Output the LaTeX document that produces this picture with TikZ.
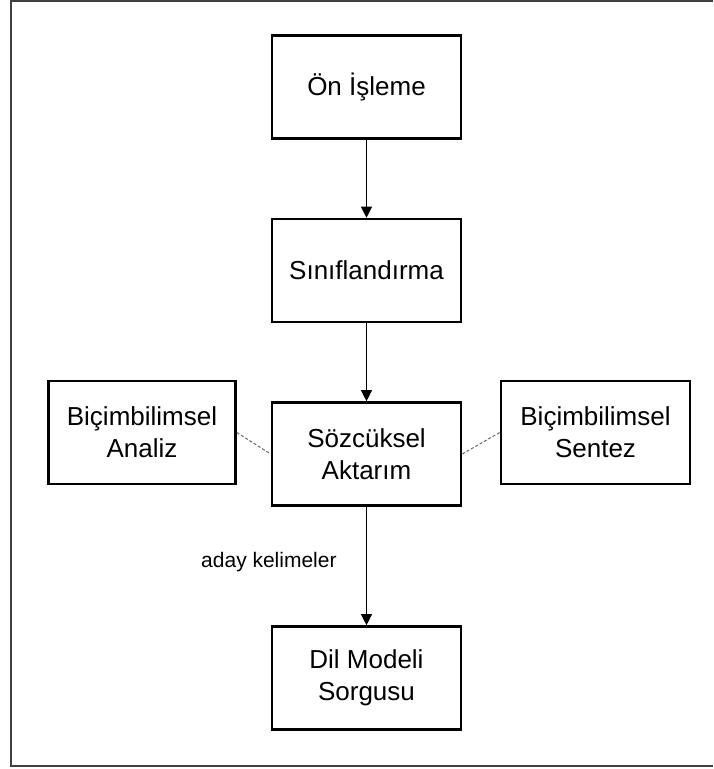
\documentclass[tikz,border=0pt]{standalone}
\usepackage{fontspec}
\setmainfont{Liberation Sans}
\usepackage{tikz}
\usetikzlibrary{arrows.meta, positioning}

\begin{document}
\begin{tikzpicture}[
    x=1pt, y=-1pt,
    stage/.style={rectangle, draw, line width=2.6pt, minimum width=189pt, minimum height=103pt, align=center, font=\fontsize{26}{32}\selectfont},
    flow/.style={-{Triangle[length=11pt, width=11pt]}, line width=1.1pt},
    link/.style={gray!80!black, line width=1pt, dash pattern=on 3pt off 2pt},
    note/.style={font=\fontsize{21}{24}\selectfont}
]

\useasboundingbox (0,0) rectangle (713,769);

% Frame
\draw[line width=2pt, black!75] (713,1) -- (11,1) -- (11,766) -- (713,766);

% Main chain
\node[stage] (pre) at (366.5,87) {Ön İşleme};
\node[stage] (cls) at (366.5,270.5) {Sınıflandırma};
\node[stage] (lex) at (366.5,454) {Sözcüksel\\Aktarım};
\node[stage] (lm) at (366.5,678) {Dil Modeli\\Sorgusu};

% Side stages
\node[stage, minimum width=187pt] (ana) at (142,432.5) {Biçimbilimsel\\Analiz};
\node[stage] (syn) at (595.5,432.5) {Biçimbilimsel\\Sentez};

% Arrows
\draw[flow] (pre) -- (cls);
\draw[flow] (cls) -- (lex);
\draw[flow] (lex) -- (lm) node[note, midway, left=26pt, yshift=4pt] {aday kelimeler};

% Dashed links
\draw[link] (ana.east) -- (lex.west);
\draw[link] (lex.east) -- (syn.west);

\end{tikzpicture}
\end{document}
